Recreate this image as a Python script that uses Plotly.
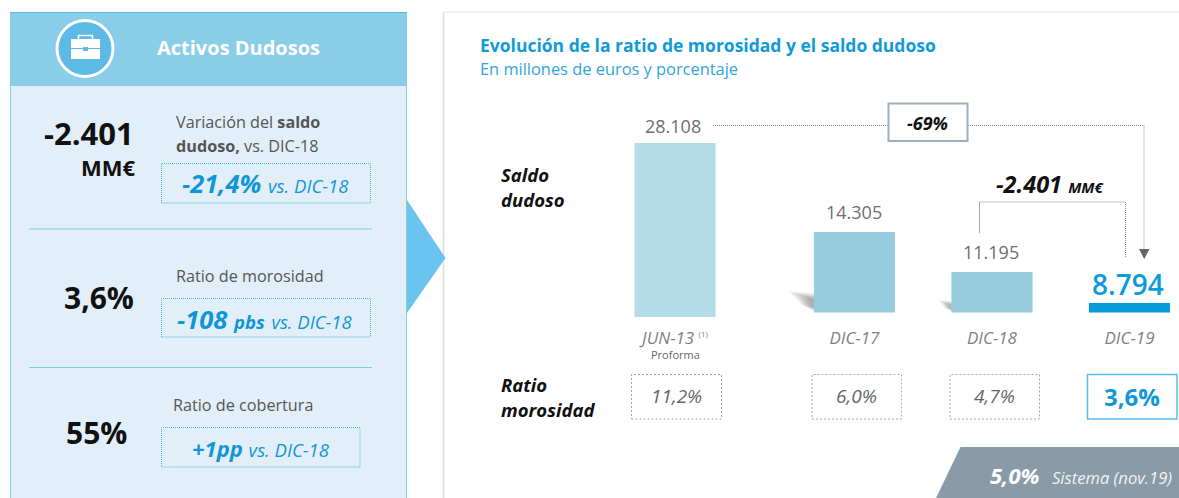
import plotly.graph_objects as go

W, H = 1179, 498

# ---- data ----
periods = ["JUN-13", "DIC-17", "DIC-18", "DIC-19"]
saldo_dudoso = [28108, 14305, 11195, 8794]
ratio_morosidad = [11.2, 6.0, 4.7, 3.6]
sistema_ratio = "5,0%"
kpi_values = ["-2.401", "3,6%", "55%"]
kpi_changes = ["-21,4%", "-108", "+1pp"]

# ---- layout helpers (pixel layout of the slide, not data) ----
bar_pos = [0, 1.305, 2.305, 3.305]
bar_width = 0.59
bar_colors = ["#B5DCE8", "#97CCDD", "#97CCDD", "#0A9BDB"]
FONT = "Open Sans"
BLUE = "#1097D8"
DOT = "1px,1px"
BOX = "#45BBD5"


def px(x):
    return x / W


def py(y):
    return 1 - y / H


def fmt_thousands(v):
    return f"{v:,}".replace(",", ".")


def fmt_pct(v):
    return f"{v:.1f}%".replace(".", ",")


shapes = []
annotations = []


def rect(x0, y0, x1, y1, fill="rgba(0,0,0,0)", line=None, width=1, dash="solid", layer="below"):
    shapes.append(dict(type="rect", xref="paper", yref="paper", x0=px(x0), x1=px(x1), y0=py(y1), y1=py(y0),
                       fillcolor=fill, line=dict(color=line or "rgba(0,0,0,0)", width=width if line else 0, dash=dash),
                       layer=layer))


def seg(points, color="#8A8A8A", width=1, dash=DOT):
    for (a, b), (c, d) in zip(points[:-1], points[1:]):
        shapes.append(dict(type="line", xref="paper", yref="paper", x0=px(a), x1=px(c), y0=py(b), y1=py(d),
                           line=dict(color=color, width=width, dash=dash), layer="below"))


def poly(points, fill, layer="below", opacity=1):
    d = "M " + " L ".join(f"{px(x):.5f},{py(y):.5f}" for x, y in points) + " Z"
    shapes.append(dict(type="path", xref="paper", yref="paper", path=d, fillcolor=fill, opacity=opacity,
                       line=dict(width=0), layer=layer))


def text(x, y, s, size, color="#222222", anchor="left", font=FONT):
    annotations.append(dict(xref="paper", yref="paper", x=px(x), y=py(y), text=s, showarrow=False, xanchor=anchor,
                            yanchor="middle", align=anchor, font=dict(family=font, size=size, color=color),
                            borderpad=0, borderwidth=0))


# right panel edge
seg([(443.5, 12), (443.5, 498)], color="#DDDDDD", width=1.5, dash="solid")
seg([(443.5, 12), (1179, 12)], color="#E6E6E6", width=1, dash="solid")

# left panel
rect(10.5, 12.5, 406.5, 510, fill="#E3EFF8", line="#7FD4E0")
rect(10, 12, 407, 86, fill="#89CDE9")
shapes.append(dict(type="line", xref="paper", yref="paper", x0=px(10), x1=px(407), y0=py(12.5), y1=py(12.5),
                   line=dict(color="#55BBD8", width=1), layer="below"))
# arrow
poly([(407, 200), (445.5, 258), (407, 313)], "#6BC4EF")

# icon
shapes.append(dict(type="circle", xref="paper", yref="paper", x0=px(57), x1=px(113), y0=py(76.5), y1=py(20.5),
                   fillcolor="#5DB9E6", line=dict(color="white", width=3), layer="below"))
rect(71, 39, 100, 59, fill="white")
rect(78.5, 35.5, 92.5, 40, line="white", width=1.5)
seg([(71, 48.5), (100, 48.5)], color="#5DB9E6", width=1, dash="solid")
rect(83, 47, 88, 51, fill="#5DB9E6")

# left panel title
text(157, 48, "<b>Activos Dudosos</b>", 20, "white")

# KPI rows
text(134, 133, f"<b>{kpi_values[0]}</b>", 31, "#111111", "right")
text(135, 167, "<b>MM€</b>", 22, "#111111", "right")
text(176, 122, "Variación del <b>saldo</b>", 16.2, "#555555")
text(176, 146, "<b>dudoso,</b> vs. DIC-18", 16.2, "#555555")
rect(161.5, 163.5, 370.5, 203, line=BOX, dash=DOT)
text(265, 182.5, f"<b><i>{kpi_changes[0]}</i></b> <i><span style='font-size:18.5px'>vs. DIC-18</span></i>", 25.5, BLUE, "center")
seg([(29, 229), (372, 229)], color="#7FCFDF", dash="solid")

text(134, 297, f"<b>{kpi_values[1]}</b>", 30, "#111111", "right")
text(176, 276, "Ratio de morosidad", 16.2, "#555555")
rect(161.5, 298.5, 370.5, 337, line=BOX, dash=DOT)
text(265, 318.5, f"<b><i>{kpi_changes[1]}</i> <span style='font-size:18.5px'><i>pbs</i></span></b> <i><span style='font-size:18.5px'>vs. DIC-18</span></i>", 25.5, BLUE, "center")
seg([(29, 367.5), (372, 367.5)], color="#7FCFDF", dash="solid")

text(127, 432, f"<b>{kpi_values[2]}</b>", 30, "#111111", "right")
text(173, 405, "Ratio de cobertura", 16.2, "#555555")
rect(161.5, 427.5, 360, 467, line=BOX, dash=DOT)
text(260.5, 447.5, f"<b><i>{kpi_changes[2]}</i></b> <i><span style='font-size:18.5px'>vs. DIC-18</span></i>", 22, BLUE, "center")

# chart title
text(480, 45, "<b>Evolución de la ratio de morosidad y el saldo dudoso</b>", 17.5, "#0F9BD7")
text(480, 69, "En millones de euros y porcentaje", 16.4, "#2FA6DC")

# row headers
text(501, 174, "<b><i>Saldo</i></b>", 18.5, "#111111")
text(501, 199, "<b><i>dudoso</i></b>", 18.5, "#111111")
text(501, 384.5, "<b><i>Ratio</i></b>", 18.5, "#111111")
text(501, 409.5, "<b><i>morosidad</i></b>", 18.5, "#111111")

# connectors
seg([(713, 125.5), (888, 125.5)])
seg([(968, 125.5), (1144, 125.5), (1144, 249)])
poly([(1139, 249), (1149.5, 249), (1144.2, 259)], "#666666")
rect(888.5, 103.5, 967.5, 141, fill="white", line="#9DB0BC", width=2)
text(927.5, 123, "<b><i>-69%</i></b>", 18, "#111111", "center")
seg([(979.5, 233), (979.5, 202)], color="#A8A8A8", dash="solid")
seg([(979.5, 202), (1125.5, 202), (1125.5, 257)])
text(1050, 184.5, "<b><i>-2.401 <span style='font-size:15px'>MM€</span></i></b>", 23.5, "#111111", "center")

# bar shadows (soft edge approximated with stacked translucent polygons)
for i in range(12):
    t = i / 11
    poly([(788 + t * 22, 291 + t * 7), (815, 293 + t * 7), (815, 312 - t * 5), (802 + t * 9, 305 + t * 2)], "#444444", opacity=0.042)
    poly([(938 + t * 11, 300 + t * 4), (952, 301 + t * 4), (952, 312 - t * 3), (945 + t * 4, 308)], "#444444", opacity=0.035)

# proforma
text(675, 354, "Proforma", 11, "#666666", "center")

# ratio boxes
ratio_box_x = [(631.5, 721.5), (812, 901.5), (950, 1039.5)]
for (a, b), v in zip(ratio_box_x, ratio_morosidad[:3]):
    rect(a, 374.5, b, 419, fill="white", line="#A6A6A6", dash="2px,2px")
    text((a + b) / 2, 396, f"<i>{fmt_pct(v)}</i>", 19, "#666666", "center")
rect(1087.5, 374.5, 1177, 419, fill="white", line="#56BDEB", width=1.5)
text(1132, 396, f"<b>{fmt_pct(ratio_morosidad[3])}</b>", 24, BLUE, "center")

# sistema band
poly([(960.5, 447), (1179, 447), (1179, 498), (936, 498)], "#8A9BA8")
text(1040, 474.5, f"<b><i>{sistema_ratio}</i></b>", 22, "white", "right")
text(1052, 477, "<i>Sistema (nov.19)</i>", 16.6, "#F2F2F2")

# ---- value labels, tied to the bars through the axes ----
label_colors = ["#6E6E6E", "#6E6E6E", "#6E6E6E", "#0A9BDB"]
label_sizes = [18, 18, 18, 28]
label_weights = [400, 400, 400, 600]
label_yshift = [17, 20, 20, 19]
label_xshift = [-2, 0, -1, -1]
for i, v in enumerate(saldo_dudoso):
    annotations.append(dict(xref="x", yref="y2" if i == 0 else "y", x=bar_pos[i], y=v, text=fmt_thousands(v),
                            showarrow=False, xanchor="center", yanchor="middle",
                            xshift=label_xshift[i], yshift=label_yshift[i],
                            font=dict(family=FONT, size=label_sizes[i], color=label_colors[i],
                                      weight=label_weights[i])))

fig = go.Figure()
# The reference's JUN-13 bar sits on a broken scale, so it gets its own axis.
fig.add_trace(go.Bar(x=bar_pos[:1], y=saldo_dudoso[:1], width=bar_width, yaxis="y2",
                     marker=dict(color=bar_colors[0], line=dict(width=0))))
fig.add_trace(go.Bar(x=bar_pos[1:], y=saldo_dudoso[1:], width=bar_width,
                     marker=dict(color=bar_colors[1:], line=dict(width=0))))

tick_text = [f"<i>{periods[0]}</i> <sup><span style='font-size:8px'>(1)</span></sup>"] + [f"<i>{p}</i>" for p in periods[1:]]

fig.update_layout(
    width=W, height=H, autosize=False,
    margin=dict(l=0, r=0, t=0, b=0),
    paper_bgcolor="white", plot_bgcolor="rgba(0,0,0,0)",
    showlegend=False, barmode="overlay",
    font=dict(family=FONT),
    xaxis=dict(domain=[px(620), 1], range=[-0.4, 3.665], tickmode="array", tickvals=bar_pos, ticktext=tick_text,
               showgrid=False, zeroline=False, showline=False, ticks="outside", ticklen=10,
               tickcolor="rgba(0,0,0,0)", tickfont=dict(family=FONT, size=17, color="#7F7F7F"), anchor="y"),
    yaxis=dict(domain=[py(312.5), py(100)], range=[8057, 24555], visible=False),
    yaxis2=dict(domain=[py(317), py(100)], range=[0, 35055], visible=False, anchor="x"),
    shapes=shapes, annotations=annotations,
)
fig.write_html("out.html", config=dict(displayModeBar=False),
               post_script="document.body.style.margin='0';document.body.style.overflow='hidden';")
